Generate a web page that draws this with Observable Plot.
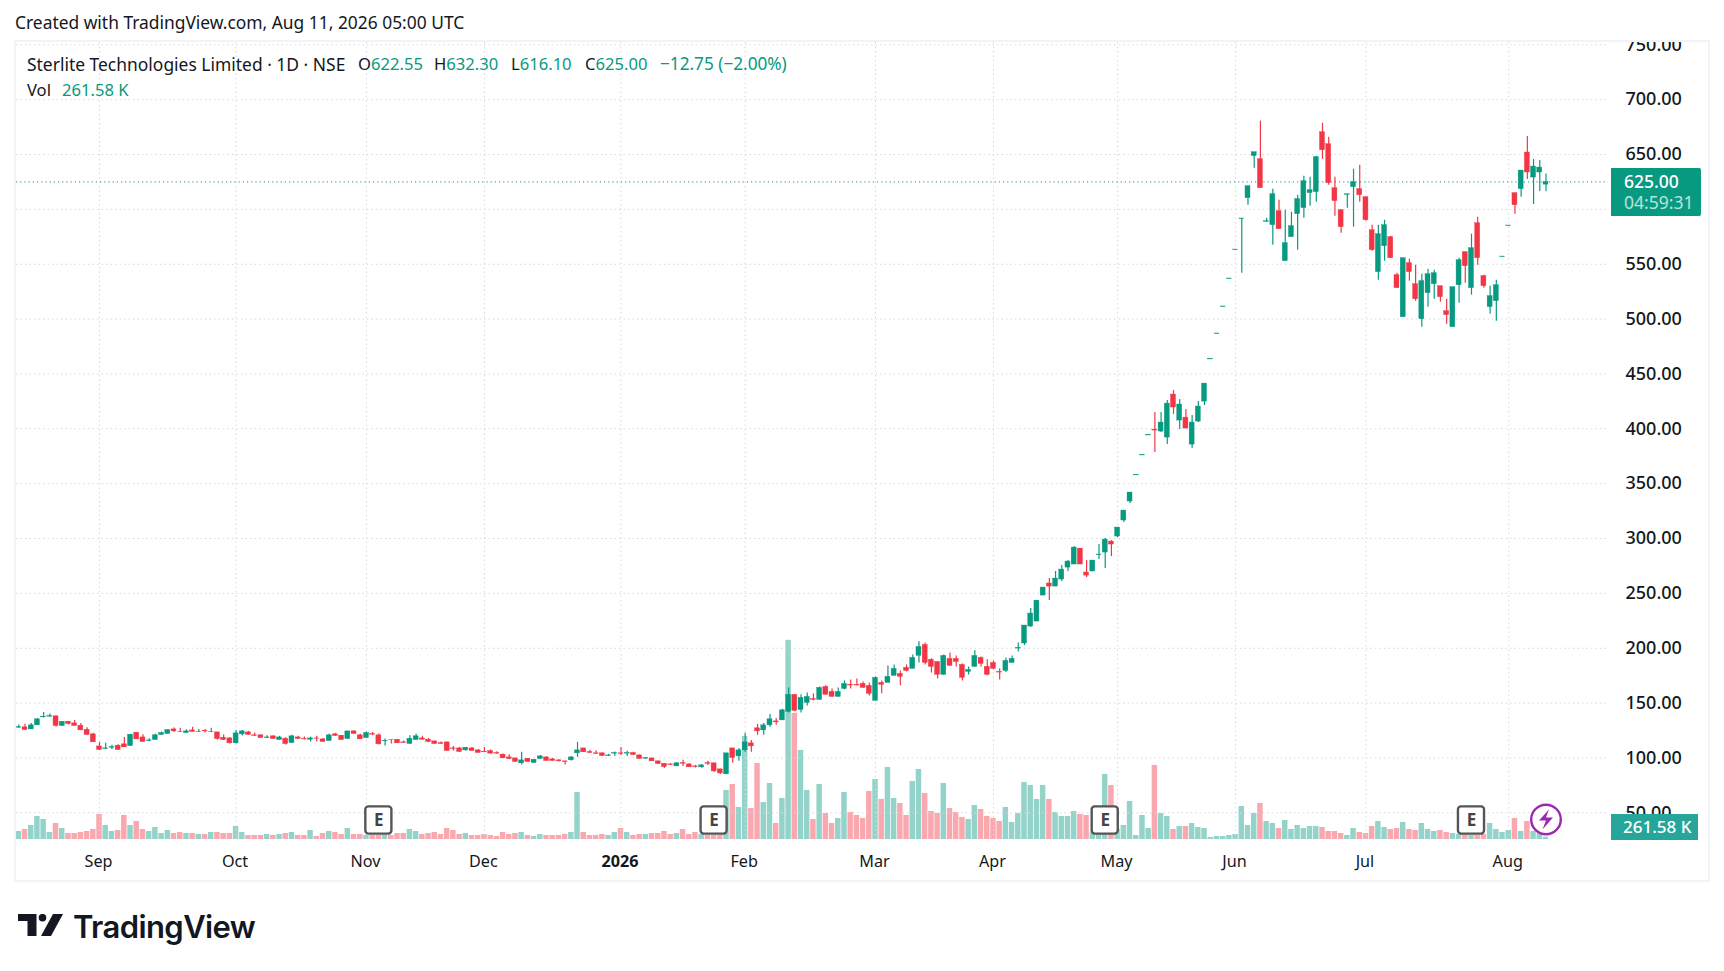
<!DOCTYPE html>
<html><head><meta charset="utf-8">
<script src="https://cdn.jsdelivr.net/npm/d3@7"></script>
<script src="https://cdn.jsdelivr.net/npm/@observablehq/plot@0.6"></script>
<style>
html,body{margin:0;padding:0;background:#fff;}
body{width:1724px;height:971px;position:relative;overflow:hidden;font-family:"Noto Sans",sans-serif;color:#131722;}
.abs{position:absolute;white-space:nowrap;}
.g{color:#089981;}
.leg{font-size:16.6px;line-height:24px;top:52px;}
#pane{position:absolute;left:14px;top:40px;width:1696px;height:842px;box-sizing:border-box;border:2px solid #f0f3fa;}
.chart{position:absolute;left:16px;top:42px;}
</style></head>
<body>
<div id="pane"></div>
<div class="chart" id="vol"></div>
<div class="chart" id="price"></div>
<div class="abs" id="created" style="left:15px;top:10px;font-size:17.4px;line-height:24px;">Created with TradingView.com, Aug 11, 2026 05:00 UTC</div>
<div class="abs leg" style="left:27px;font-size:17.45px;">Sterlite Technologies Limited · 1D · NSE</div>
<div class="abs leg" style="left:358px;">O<span class="g">622.55</span></div>
<div class="abs leg" style="left:434px;">H<span class="g">632.30</span></div>
<div class="abs leg" style="left:511px;">L<span class="g">616.10</span></div>
<div class="abs leg" style="left:585px;">C<span class="g">625.00</span></div>
<div class="abs leg g" style="left:660px;font-size:17.2px;">−12.75 (−2.00%)</div>
<div class="abs leg" style="left:27px;top:78px;">Vol</div>
<div class="abs leg g" style="left:62px;top:78px;">261.58 K</div>
<div class="abs" style="left:1611px;top:168px;width:90px;height:48px;background:#089981;border-radius:0 2px 2px 0;color:#fff;">
  <div style="position:absolute;left:13px;top:3px;font-size:17.5px;line-height:21px;font-weight:500;">625.00</div>
  <div style="position:absolute;left:13px;top:24px;font-size:17.5px;line-height:21px;opacity:.72;">04:59:31</div>
</div>
<div class="abs" style="left:1611px;top:814px;width:87px;height:26px;background:#26a69a;color:#fff;">
  <div style="position:absolute;left:12px;top:1px;font-size:17px;line-height:24px;font-weight:500;">261.58 K</div>
</div>
<svg class="abs" style="left:18px;top:914px" width="46" height="23" viewBox="0 0 46 23">
  <path d="M0 0H18.5V22H9.5V7H0Z" fill="#131722"/><circle cx="24.5" cy="3.7" r="3.8" fill="#131722"/><path d="M35 0H45L33 22H23Z" fill="#131722"/>
</svg>
<div class="abs" style="left:73px;top:906px;font-family:Inter,sans-serif;font-weight:600;font-size:31px;line-height:42px;letter-spacing:-.6px;color:#131722;">TradingView</div>
<script>
const opens = [127.6,127.9,126,129.7,137,137.6,137.9,129.1,133,131.5,
129.4,125.7,121.5,110.5,108.1,109.3,111.2,112.4,110.8,123,
118.7,115.4,116.3,120.9,121.8,126,123.9,122.7,125.1,123.6,
124.8,123.6,123.3,118.4,117.8,113.3,121.5,123.3,120.6,120.6,
118.1,119.7,116.3,117.5,113.6,118.7,117.2,116.6,117.8,116.9,
115.4,121.5,120.3,117.2,124.2,120.6,118.1,121.8,120.6,115.1,
116.6,116.6,114.2,112.7,116.3,117.8,116.6,115.1,113.6,114.2,
108.7,108.7,106.9,108.7,106.9,105.7,106.3,104.5,103,100.5,
99.6,95.1,99.3,95.4,99,100.5,98.7,97.8,96.9,97.8,
104.2,108.7,105.4,104.2,104.2,101.7,103.9,104.2,103.9,104.5,
102.3,99.3,99.6,96.9,94.7,94.1,92.3,95.4,94.1,92.3,
91.4,95.4,95.1,89.6,85,108.7,101.4,106.9,113.3,127,
125.1,129.7,133.3,134.2,142,157.5,143.8,150.2,153.8,152.9,
164.7,160.2,155.6,162.9,166.6,166.6,167.5,165.7,152,168.4,
168.4,174.8,176.6,182.1,181.2,193,203,189.4,187.5,175.7,
190.3,190.3,184.8,178.4,183,191.2,183,186.6,178.4,179.3,
186.6,199.7,204.3,219.8,224.3,248,259,256.2,262.6,273.5,
276.3,290.8,269,269.9,284.8,287.2,297.2,301.8,316.4,333.7,
357.5,375.7,393.9,399.3,397.5,392,431.2,407.5,410.2,385.6,
406.6,424.8,463.2,486.4,511,536.5,562.9,591.2,610.2,648.5,
645.7,588.6,585.6,598.3,552.8,574.7,595.6,601.1,614.8,615.7,
670.3,659.4,619.3,599.3,613.2,620.2,618.4,611.1,581,542.8,
566.4,574.7,540,501.7,550.9,531.8,499.9,523.6,531.8,530,
507.2,492.6,530.9,561,528.2,587.4,539.1,510.9,516.3,556.5,
584.8,614.8,618.4,651.8,629,633.6,622.55];
const closes = [128.2,125.4,129.7,135.2,137.6,138.2,129.1,133,130.9,129.1,
125.1,120.9,114.2,107.2,108.7,109.9,107.2,109.6,121.2,116.9,
114.5,116,120.6,122.7,125.4,124.2,123.6,124.2,123.6,123.9,
124.2,123.9,117.2,116.3,113.3,122.4,124.2,120.9,120,118.1,
118.7,117.2,118.7,112.7,119.7,117.2,116.9,117.8,117.5,114.5,
120.6,120,116.3,124.2,121.8,116.9,122.7,121.2,112.4,115.4,
116.3,113.3,113.6,117.5,119.7,116.6,114.5,112.7,112.7,106.3,
108.1,105.4,109.3,106.3,104.5,105.1,103.9,103.9,99.6,99,
96.3,97.8,96.3,98.4,101.4,97.2,97.2,96.9,96.3,100.5,
106.9,105.1,104.5,103.6,101.7,102.3,104.5,103.6,104.5,102.6,
99,99.9,96.9,94.4,91.7,93.5,95.1,94.7,91.4,91.7,
93.2,94.7,87.7,85.9,104.2,99.9,106.9,114.2,110.5,124.2,
129.7,135.2,132.4,143.4,157.5,142.9,154.7,155.6,152.9,163.8,
157.5,155.6,160.2,167.5,166,166,163.8,158.4,173,166.6,
173.9,181.2,173.9,179.3,191.2,201.2,186.6,183,175.7,193,
183.9,187.5,173,180.2,193,185.7,175.7,181.2,177.8,188.4,
190.3,200.3,220.7,231.6,243.4,255.3,256.2,263.5,271.7,279,
291.7,276.3,266.2,279.9,285.4,299,294.5,310,325.5,341.9,
358,376.2,394.4,398.4,405.7,423,419.4,422.1,400.2,405.7,
420.3,441.2,463.7,486.9,511.5,537,563.4,591.7,621.1,652.1,
619.3,589.2,613.8,581.9,569.2,584.7,609.3,625.7,617.5,647.6,
653.9,623.9,607.5,583.8,613.8,624.8,612.9,590.1,562.8,577.4,
585.6,555.5,528.2,555.5,542.8,518.1,534.6,540.9,541.8,520,
503.6,529.1,553.7,548.2,564.6,555.5,530,520.9,530.9,557,
585.3,603.8,635.4,633.6,639,638.1,625];
const highs = [130,130.6,131.5,135.8,141.5,140,138.5,133,133.3,134.2,
131.5,127.6,122.4,114.2,113.3,111.5,112.1,118.7,121.5,123.3,
121.2,117.5,121.5,123.6,125.7,127.3,127,125.7,127.9,126,
126,127,123.3,120.9,118.7,125.1,125.1,124.2,122.7,121.2,
120.3,120.3,119.7,118.4,120.6,119.7,119,119,119.7,117.8,
121.5,122.4,120.3,124.2,124.8,121.5,123.6,123.3,121.8,117.2,
116.6,116.6,115.4,120.3,121.5,119.7,117.8,115.1,114.5,114.2,
110.5,109.6,109.6,109.6,107.8,109.6,107.2,105.7,103.6,103,
99.6,105.1,99.6,98.4,102.3,101.1,99.6,98.4,96.9,101.1,
114.2,108.7,106.9,106.6,104.5,103.3,105.4,109.6,106,105.1,
102.6,100.5,99.6,96.9,94.7,94.7,95.7,97.8,94.7,93.2,
94.1,96.9,95.1,89.6,104.2,108.7,108.7,122.4,116,130.6,
131.5,139.7,136,144.3,163.8,157.5,157.5,159.3,158.4,164.7,
165.7,162.9,163.8,170.2,171.1,172,169.3,168.4,173.9,170.2,
183.9,184.8,179.3,184.8,193.9,205.8,204.8,190.3,187.5,193.9,
195.7,193,185.7,183,197.6,192.1,189.4,188.4,181.2,191.2,
193,204.8,220.7,236.2,243.4,255.3,263.5,269.9,275.3,279.9,
292.7,290.8,279.9,279.9,294.5,299.9,298.1,310,325.5,341.9,
358,376.2,394.4,414.8,414.8,425.7,434.8,426.6,417.5,412.1,
424.8,441.2,463.7,486.9,511.5,537,563.4,591.7,621.1,652.1,
680.4,592,618.4,608.4,599.3,597.4,612.9,630.2,629.3,648.5,
678.5,665.8,629.3,599.3,613.8,636.6,640.3,611.1,585.6,585.6,
590.1,575.6,541.8,555.5,554.6,549.1,540.9,545.5,544.6,530,
518.1,529.1,555.5,561,577.4,592.9,540,530,535.5,557,
585.3,614.8,635.4,666.4,645.4,644.5,632.3];
const lows = [126.9,125.4,126,129.7,136.4,137.3,128.2,129.1,130,129.1,
125.1,120.9,114.2,106.9,107.8,107.8,107.2,109.6,110.8,116.9,
114.5,115.1,116.3,120.9,121.8,123.3,123.3,122.7,123.6,123.3,
122.7,123.3,116.3,116,112.7,112.7,120,120.9,119.7,118.1,
117.8,117.2,116.3,111.8,113.6,117.2,116.3,114.5,114.5,114.5,
115.4,119.7,116.3,117.2,121.8,116.9,118.1,120.3,111.8,110.8,
112.7,113.3,113.3,112.7,116.3,116.3,114.2,112.4,112.7,106.3,
106.3,105.1,106,106,104.5,105.1,103.6,103.3,99.6,98.4,
96.3,93.5,96.3,95.4,98.7,97.2,97.2,96.3,93.5,97.2,
100.5,105.1,104.2,103.6,101.4,101.4,101.4,102.3,101.4,102.3,
98.7,98.7,96.9,94.1,90.5,93.2,92.3,92.3,91.4,90.8,
90.5,93.2,86.8,85,85,95.1,96.9,105.1,105.1,120.6,
120.6,127.9,129.7,134.2,141,142,141,147.4,152,152.9,
157.5,155.6,155.6,162,162.9,165.7,163.8,156.5,152,158.4,
168.4,174.8,165.7,178.4,181.2,186.6,184.8,177.5,172,175.7,
183.9,183,170.2,175.7,183,183,174.8,180.2,171.1,177.8,
186.6,196.6,202.4,218.8,224.3,248,243.4,256.2,260.8,269.9,
276.3,276.3,264.4,269.9,280.8,272.6,283.5,300.9,314.5,331.9,
357.5,375.7,393.9,378.3,396.6,385.6,413,399.3,400.2,382,
405.7,421.2,463.2,486.4,511,536.5,562.9,541.8,603.8,637.5,
619.3,588.6,567.4,581.9,552.8,574.7,562.8,592,602.9,606.5,
645.7,622,593.8,578.3,601.1,583.8,606.5,589.2,561.9,535.5,
552.8,555.5,528.2,501.7,534.6,516.3,492.6,510.9,518.1,515.4,
495.4,492.6,514.5,532.7,521.8,549.1,528.2,504.5,498.1,556.5,
584.8,595.6,611.1,627.2,604.4,616.3,616.1];
const volumesK = [910,1137,1592,2615,2274,796,1819,1251,682,682,
796,910,1137,2843,1592,910,1023,2729,1592,2047,
1137,910,1364,682,1023,682,796,682,682,569,
569,796,796,682,682,1478,796,455,455,455,
569,455,569,682,796,455,455,1023,341,682,
910,796,569,1251,569,569,455,455,455,455,
455,682,682,1137,910,569,682,796,569,1251,
1023,569,682,455,455,569,455,341,796,569,
682,796,455,341,569,455,455,455,569,796,
5344,796,455,455,569,455,796,1251,796,455,
569,569,682,682,910,569,682,1137,569,796,
569,455,455,455,5571,6254,3638,11711,3525,8641,
4207,6367,1819,4662,22626,14326,10119,5571,2274,6254,
2956,1819,2388,5344,3070,2729,2388,5458,6822,4548,
8186,4662,4093,2729,6595,7959,5230,3184,2956,6367,
3525,3070,2501,2274,3866,3411,2615,2388,2047,3638,
1933,2956,6481,6140,4548,6140,4548,3070,2615,2615,
3184,2843,2729,758,758,7391,6140,1137,1592,4321,
455,2729,1251,8414,2956,2615,1137,1478,1478,1819,
1364,1251,227,341,341,455,569,3752,1592,2956,
4093,2047,1819,1251,2160,1137,1592,1251,1478,1478,
1364,910,910,682,455,1251,796,682,1478,2047,
1364,1137,1251,1933,1137,1023,1819,1137,910,1023,
796,682,569,569,455,455,569,1819,1137,796,
1023,2388,910,2047,910,644,261.58];
const monthBars = [13,35,56,75,117,138,157,177,196,217,240];
const monthLabels = ["Sep","Oct","Nov","Dec","Feb","Mar","Apr","May","Jun","Jul","Aug"];
const yearBars = [97];
const yearLabels = ["2026"];
const priceGrid = [50,100,150,200,250,300,350,400,450,500,550,600,650,700,750];
const priceLabels = [50,100,150,200,250,300,350,400,450,500,550,650,700,750];
const earningsBars = [58,112,175,234];
const lastClose = 625;
const alertBar = 246;

const GREEN="#089981", RED="#f23645", GRID="#d6d9e0";
const W=1692,H=838,MR=100,MB=41;
const xDomain=[-0.37,256.07];
const bars=d3.range(opens.length);
const up=i=>closes[i]>=opens[i];
const style={overflow:"hidden",background:"transparent"};
const font='"Noto Sans",sans-serif';

document.getElementById("vol").append(Plot.plot({
  width:W,height:H,marginTop:0,marginLeft:0,marginRight:MR,marginBottom:MB,style,
  x:{domain:xDomain,axis:null},
  y:{domain:[0,90540],axis:null},
  marks:[
    Plot.rect(bars,{x1:i=>i-.44,x2:i=>i+.44,y1:()=>0,y2:i=>volumesK[i],
      fill:i=>up(i)?GREEN:RED,fillOpacity:.43})
  ]
}));

const all=[...monthBars,...yearBars];
const lbl=new Map([...monthBars.map((b,i)=>[b,monthLabels[i]]),...yearBars.map((b,i)=>[b,yearLabels[i]])]);
document.getElementById("price").append(Plot.plot({
  width:W,height:H,marginTop:0,marginLeft:0,marginRight:MR,marginBottom:MB,style,
  x:{domain:xDomain,axis:null},
  y:{domain:[25.66,752.1],axis:null},
  marks:[
    Plot.ruleX(all,{stroke:GRID,strokeWidth:1,strokeDasharray:"1.5,3"}),
    Plot.ruleY(priceGrid,{stroke:GRID,strokeWidth:1,strokeDasharray:"1.5,3"}),
    Plot.ruleY([lastClose],{stroke:GREEN,strokeWidth:1,strokeDasharray:"1.2,3"}),
    Plot.ruleX(bars,{x:i=>i,y1:i=>lows[i],y2:i=>highs[i],stroke:i=>up(i)?GREEN:RED,strokeWidth:1.2}),
    Plot.rect(bars,{x1:i=>i-.4,x2:i=>i+.4,y1:i=>opens[i],y2:i=>closes[i],
      fill:i=>up(i)?GREEN:RED,stroke:i=>up(i)?GREEN:RED,strokeWidth:.4}),
    Plot.axisY(priceLabels,{anchor:"right",label:null,tickSize:0,tickPadding:17,textAnchor:"start",
      tickFormat:d3.format(".2f"),fontSize:18,fontWeight:500,fontFamily:font,fill:"#131722"}),
    Plot.axisX(monthBars,{anchor:"bottom",label:null,tickSize:0,tickPadding:16,dx:-1,
      tickFormat:b=>lbl.get(b),fontSize:16.2,fontFamily:font,fill:"#131722"}),
    Plot.axisX(yearBars,{anchor:"bottom",label:null,tickSize:0,tickPadding:16,dx:-1,
      tickFormat:b=>lbl.get(b),fontSize:16.2,fontWeight:"bold",fontFamily:font,fill:"#131722"}),
    Plot.rect(earningsBars,{x1:b=>b-2.1,x2:b=>b+2.1,y1:()=>30.6,y2:()=>55.4,rx:3,
      fill:"#fff",stroke:"#555",strokeWidth:2.4}),
    Plot.text(earningsBars,{x:b=>b,y:()=>43,text:()=>"E",fontSize:17,fontWeight:"bold",fontFamily:font,fill:"#444"}),
    Plot.dot([alertBar],{x:b=>b,y:()=>43.9,r:14.8,fill:"#fff",stroke:"#9c27b0",strokeWidth:2.4}),
    Plot.dot([alertBar],{x:b=>b,y:()=>43.9,r:10,fill:"#9c27b0",stroke:"none",
      symbol:{draw(c,size){const r=Math.sqrt(size/Math.PI);
        const pts=[[.3,-1],[-.7,.1],[0,.1],[-.35,1],[.7,-.2],[0,-.2]];
        pts.forEach((p,i)=>i?c.lineTo(p[0]*r,p[1]*r):c.moveTo(p[0]*r,p[1]*r));c.closePath();}}})
  ]
}));
</script>
</body></html>
